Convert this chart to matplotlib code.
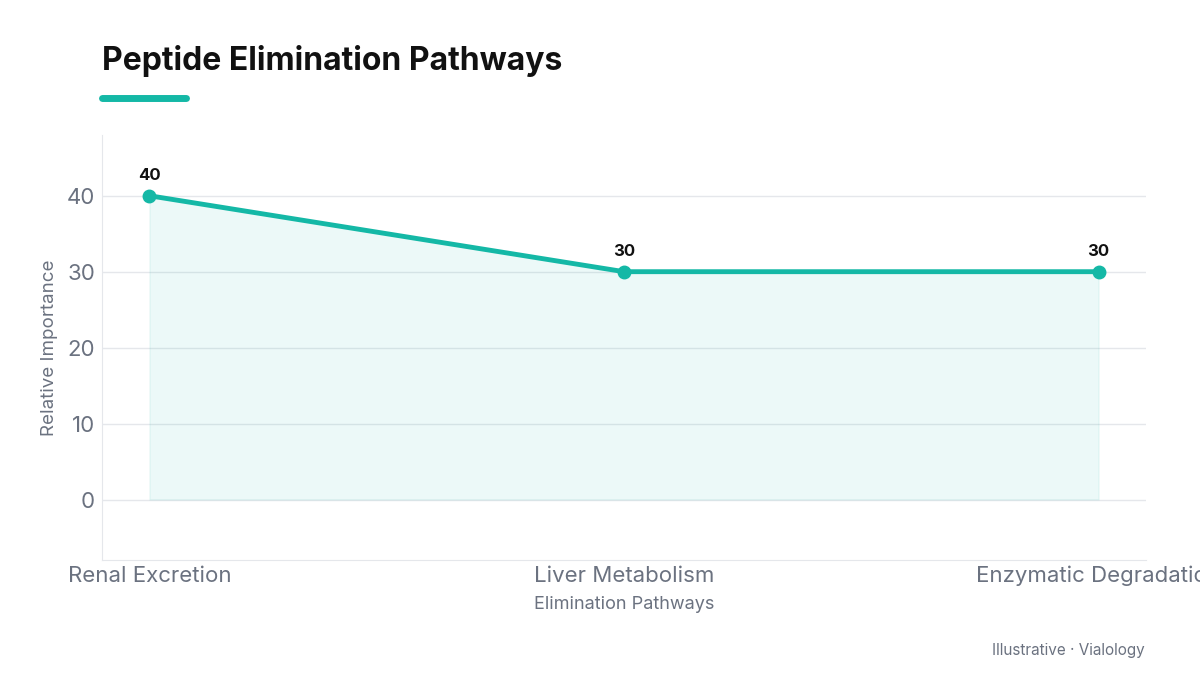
import matplotlib.pyplot as plt
from matplotlib.lines import Line2D

plt.rcParams['font.family'] = ['Inter', 'DejaVu Sans']

pathways = ["Renal Excretion", "Liver Metabolism", "Enzymatic Degradation"]
importance = [40, 30, 30]

teal = "#14b8a6"
gray = "#6b7280"

fig = plt.figure(figsize=(12, 6.75), dpi=100)
ax = fig.add_axes([0.085, 0.17, 0.87, 0.63])

x = list(range(len(pathways)))
ax.fill_between(x, importance, 0, color=teal, alpha=0.08, linewidth=1)
ax.plot(x, importance, color=teal, linewidth=3.5, marker='o', markersize=9, zorder=3)
for xi, v in zip(x, importance):
    ax.annotate(str(v), (xi, v), xytext=(0, 9), textcoords='offset points',
                ha='center', va='bottom', fontsize=12, fontweight='bold', color='#111111')

ax.set_xlim(-0.1, 2.1)
ax.set_ylim(-8, 48)
ax.set_yticks([0, 10, 20, 30, 40])
ax.set_xticks(x)
ax.set_xticklabels(pathways)
ax.tick_params(length=0, labelsize=16, labelcolor=gray)
ax.tick_params(axis='x', pad=4)
ax.tick_params(axis='y', pad=5)
ax.grid(axis='y', color='#e5e7eb', linewidth=1)
ax.set_axisbelow(True)
for s in ['top', 'right']:
    ax.spines[s].set_visible(False)
for s in ['left', 'bottom']:
    ax.spines[s].set_color('#e5e7eb')
ax.set_xlabel("Elimination Pathways", fontsize=13, color=gray, labelpad=7)
ax.set_ylabel("Relative Importance", fontsize=13.5, color=gray, labelpad=6)

fig.text(0.085, 0.91, "Peptide Elimination Pathways", fontsize=23, fontweight='bold',
         color='#111111', va='center', ha='left')
fig.add_artist(Line2D([0.085, 0.155], [0.855, 0.855], color=teal, linewidth=5,
                      solid_capstyle='round', transform=fig.transFigure))
fig.text(0.954, 0.037, "Illustrative · Vialology", fontsize=11, color=gray,
         ha='right', va='center')

fig.savefig("out.png", dpi=100)
